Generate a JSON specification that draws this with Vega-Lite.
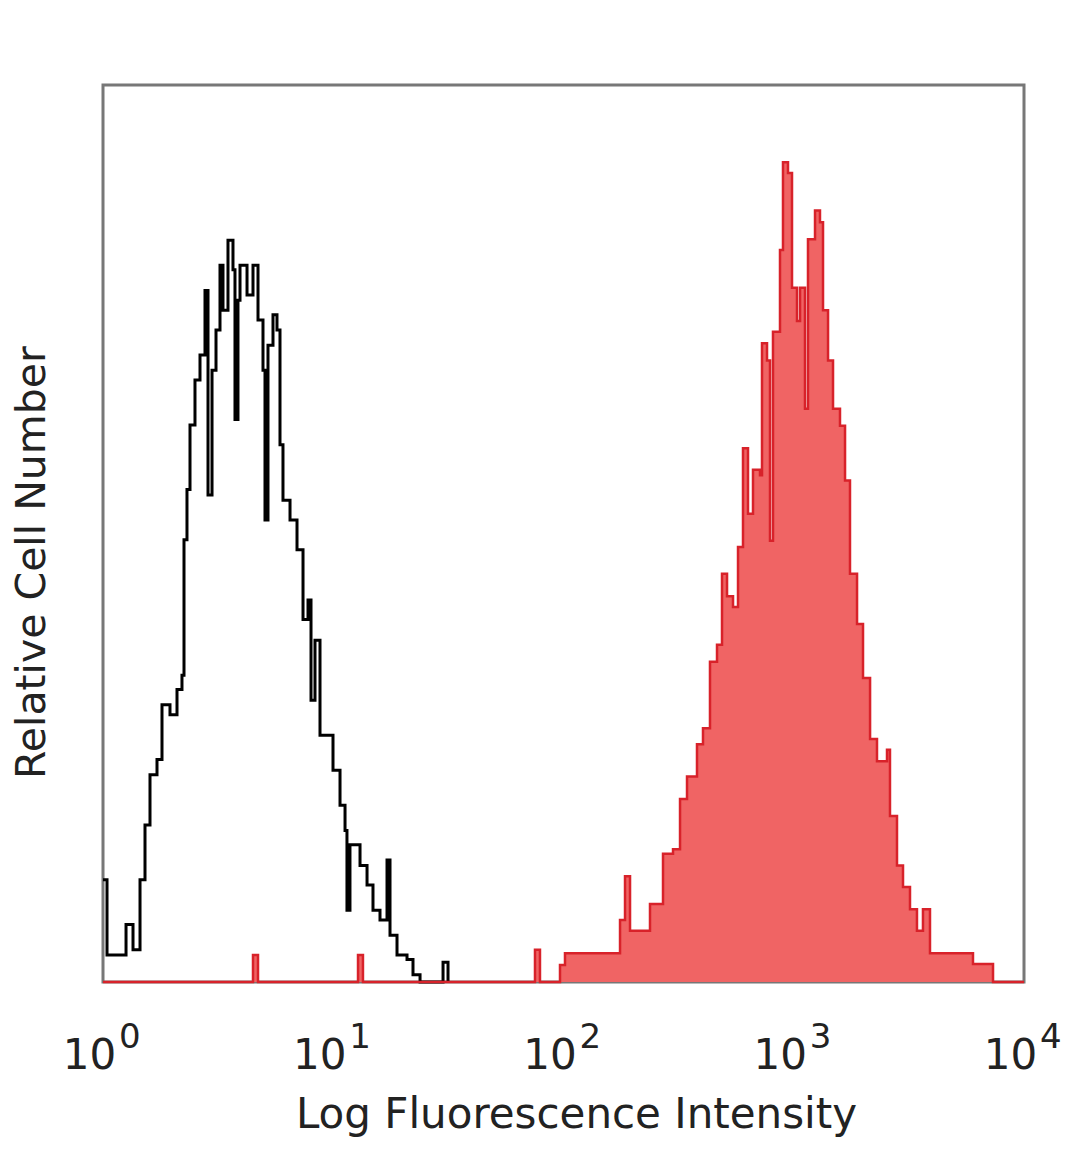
{
  "$schema": "https://vega.github.io/schema/vega-lite/v6.json",
  "width": 921,
  "height": 897,
  "autosize": {"type": "none"},
  "padding": {"left": 103, "top": 85, "right": 56, "bottom": 187},
  "background": "white",
  "config": {
    "view": {"stroke": "#777777", "strokeWidth": 3},
    "font": "DejaVu Sans"
  },
  "datasets": {
    "control": [
      {"intensity": 1, "count": 11.4},
      {"intensity": 1.041, "count": 3.0},
      {"intensity": 1.259, "count": 6.4},
      {"intensity": 1.35, "count": 3.6},
      {"intensity": 1.448, "count": 11.4},
      {"intensity": 1.522, "count": 17.5},
      {"intensity": 1.6, "count": 23.1},
      {"intensity": 1.716, "count": 24.8},
      {"intensity": 1.804, "count": 30.9},
      {"intensity": 1.954, "count": 29.8},
      {"intensity": 2.096, "count": 32.6},
      {"intensity": 2.203, "count": 34.2},
      {"intensity": 2.248, "count": 49.3},
      {"intensity": 2.316, "count": 54.9},
      {"intensity": 2.387, "count": 62.1},
      {"intensity": 2.509, "count": 67.1},
      {"intensity": 2.638, "count": 69.9},
      {"intensity": 2.773, "count": 77.1},
      {"intensity": 2.858, "count": 54.3},
      {"intensity": 2.975, "count": 68.2},
      {"intensity": 3.096, "count": 72.7},
      {"intensity": 3.222, "count": 79.9},
      {"intensity": 3.32, "count": 74.9},
      {"intensity": 3.49, "count": 82.7},
      {"intensity": 3.669, "count": 79.4},
      {"intensity": 3.743, "count": 62.7},
      {"intensity": 3.857, "count": 76.0},
      {"intensity": 3.936, "count": 79.9},
      {"intensity": 4.222, "count": 76.6},
      {"intensity": 4.482, "count": 79.9},
      {"intensity": 4.712, "count": 73.8},
      {"intensity": 4.953, "count": 68.2},
      {"intensity": 5.053, "count": 51.5},
      {"intensity": 5.207, "count": 71.0},
      {"intensity": 5.474, "count": 74.4},
      {"intensity": 5.697, "count": 72.7},
      {"intensity": 5.871, "count": 59.9},
      {"intensity": 6.049, "count": 53.7},
      {"intensity": 6.49, "count": 51.5},
      {"intensity": 6.96, "count": 48.2},
      {"intensity": 7.391, "count": 40.4},
      {"intensity": 7.769, "count": 42.6},
      {"intensity": 8.006, "count": 31.4},
      {"intensity": 8.332, "count": 38.1},
      {"intensity": 8.759, "count": 27.5},
      {"intensity": 9.395, "count": 27.5},
      {"intensity": 9.975, "count": 23.6},
      {"intensity": 10.7, "count": 19.7},
      {"intensity": 11.25, "count": 16.9},
      {"intensity": 11.47, "count": 8.0},
      {"intensity": 11.82, "count": 15.3},
      {"intensity": 13.07, "count": 13.0},
      {"intensity": 14.02, "count": 10.8},
      {"intensity": 14.88, "count": 8.0},
      {"intensity": 15.96, "count": 6.9},
      {"intensity": 17.12, "count": 13.6},
      {"intensity": 17.64, "count": 5.2},
      {"intensity": 18.92, "count": 3.0},
      {"intensity": 20.91, "count": 2.5},
      {"intensity": 22.2, "count": 0.8},
      {"intensity": 23.82, "count": 0},
      {"intensity": 29.98, "count": 2.2},
      {"intensity": 31.51, "count": 0}
    ],
    "stained": [
      {"intensity": 1, "count": 0},
      {"intensity": 4.482, "count": 3.0},
      {"intensity": 4.712, "count": 0},
      {"intensity": 12.81, "count": 3.0},
      {"intensity": 13.46, "count": 0},
      {"intensity": 75.19, "count": 3.6},
      {"intensity": 79.04, "count": 0},
      {"intensity": 96.56, "count": 1.9},
      {"intensity": 101.5, "count": 3.2},
      {"intensity": 176.0, "count": 6.9},
      {"intensity": 185.0, "count": 11.8},
      {"intensity": 194.5, "count": 5.7},
      {"intensity": 237.5, "count": 8.7},
      {"intensity": 270.5, "count": 14.3},
      {"intensity": 299.0, "count": 14.8},
      {"intensity": 320.7, "count": 20.4},
      {"intensity": 343.9, "count": 22.9},
      {"intensity": 380.0, "count": 26.5},
      {"intensity": 403.5, "count": 28.3},
      {"intensity": 432.7, "count": 35.7},
      {"intensity": 464.2, "count": 37.6},
      {"intensity": 488.0, "count": 45.5},
      {"intensity": 513.1, "count": 43.0},
      {"intensity": 544.8, "count": 41.8},
      {"intensity": 572.7, "count": 48.5},
      {"intensity": 602.0, "count": 59.5},
      {"intensity": 632.9, "count": 52.2},
      {"intensity": 665.3, "count": 57.1},
      {"intensity": 713.6, "count": 56.5},
      {"intensity": 728.0, "count": 71.2},
      {"intensity": 765.4, "count": 69.3},
      {"intensity": 788.6, "count": 49.2},
      {"intensity": 812.5, "count": 72.5},
      {"intensity": 871.5, "count": 81.6},
      {"intensity": 898.0, "count": 91.4},
      {"intensity": 944.1, "count": 90.2},
      {"intensity": 982.7, "count": 77.4},
      {"intensity": 1033, "count": 73.7},
      {"intensity": 1065, "count": 77.4},
      {"intensity": 1119, "count": 63.9},
      {"intensity": 1153, "count": 82.8},
      {"intensity": 1237, "count": 86.0},
      {"intensity": 1300, "count": 84.7},
      {"intensity": 1340, "count": 74.9},
      {"intensity": 1409, "count": 69.3},
      {"intensity": 1481, "count": 63.9},
      {"intensity": 1588, "count": 62.0},
      {"intensity": 1670, "count": 55.9},
      {"intensity": 1755, "count": 45.5},
      {"intensity": 1883, "count": 39.9},
      {"intensity": 1999, "count": 33.9},
      {"intensity": 2145, "count": 27.1},
      {"intensity": 2299, "count": 24.6},
      {"intensity": 2541, "count": 25.9},
      {"intensity": 2618, "count": 18.5},
      {"intensity": 2808, "count": 13.0},
      {"intensity": 2982, "count": 10.6},
      {"intensity": 3198, "count": 8.1},
      {"intensity": 3429, "count": 5.7},
      {"intensity": 3641, "count": 8.1},
      {"intensity": 3906, "count": 3.2},
      {"intensity": 6004, "count": 2.0},
      {"intensity": 7336, "count": 0},
      {"intensity": 10000, "count": 0}
    ],
    "exponents": [
      {"intensity": 1, "exponent": "0"},
      {"intensity": 10, "exponent": "1"},
      {"intensity": 100, "exponent": "2"},
      {"intensity": 1000, "exponent": "3"},
      {"intensity": 10000, "exponent": "4"}
    ]
  },
  "layer": [
    {
      "data": {"name": "control"},
      "mark": {"type": "line", "interpolate": "step-after", "color": "#000000", "strokeWidth": 3},
      "encoding": {
        "x": {
          "field": "intensity",
          "type": "quantitative",
          "scale": {"type": "log", "domain": [1, 10000]},
          "axis": {
            "title": "Log Fluorescence Intensity",
            "values": [1, 10, 100, 1000, 10000],
            "labelExpr": "'10'",
            "domain": false,
            "ticks": false,
            "grid": false,
            "labelFontSize": 42,
            "labelColor": "#222222",
            "labelBaseline": "alphabetic",
            "labelPadding": 86,
            "labelOffset": -14,
            "labelFlush": false,
            "labelOverlap": false,
            "titleFontSize": 42,
            "titleFontWeight": "normal",
            "titleColor": "#222222",
            "titleBaseline": "alphabetic",
            "titleY": 145,
            "titleX": 473
          }
        },
        "y": {
          "field": "count",
          "type": "quantitative",
          "scale": {"domain": [0, 100]},
          "axis": {
            "title": "Relative Cell Number",
            "labels": false,
            "ticks": false,
            "domain": false,
            "grid": false,
            "titleFontSize": 41,
            "titleFontWeight": "normal",
            "titleColor": "#222222",
            "titlePadding": 50,
            "titleY": 477
          }
        }
      }
    },
    {
      "data": {"name": "stained"},
      "mark": {"type": "area", "interpolate": "step-after", "color": "#f06464", "opacity": 1},
      "encoding": {
        "x": {"field": "intensity", "type": "quantitative"},
        "y": {"field": "count", "type": "quantitative"}
      }
    },
    {
      "data": {"name": "stained"},
      "mark": {"type": "line", "interpolate": "step-after", "color": "#d8222a", "strokeWidth": 2.5},
      "encoding": {
        "x": {"field": "intensity", "type": "quantitative"},
        "y": {"field": "count", "type": "quantitative"}
      }
    },
    {
      "data": {"name": "exponents"},
      "mark": {"type": "text", "align": "left", "baseline": "alphabetic", "dx": 16, "dy": 66, "fontSize": 34, "color": "#222222"},
      "encoding": {
        "x": {"field": "intensity", "type": "quantitative"},
        "y": {"datum": 0, "type": "quantitative"},
        "text": {"field": "exponent", "type": "nominal"}
      }
    }
  ]
}
